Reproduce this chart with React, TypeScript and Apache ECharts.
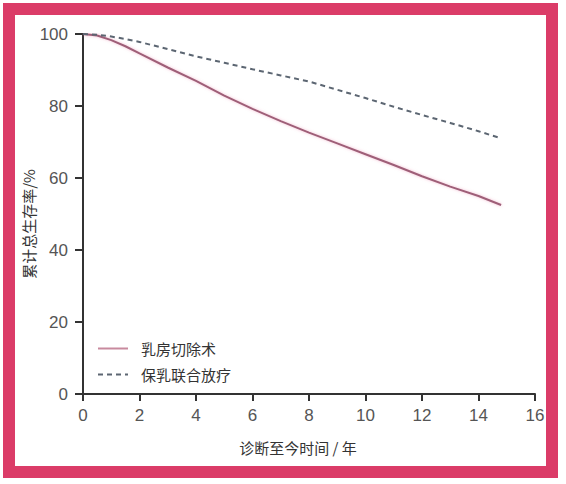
import React, { useEffect, useRef } from "react";
import * as echarts from "echarts";

// years since diagnosis (shared x values)
const years = [0, 0.5, 1, 1.5, 2, 3, 4, 5, 6, 7, 8, 9, 10, 11, 12, 13, 14, 14.8];
// 乳房切除术
const mastectomy = [100, 99.6, 98.3, 96.6, 94.6, 90.7, 87, 82.9, 79.2, 75.8, 72.6, 69.6, 66.6, 63.6, 60.5, 57.6, 55, 52.5];
// 保乳联合放疗
const conserving = [100, 99.8, 99.3, 98.6, 97.8, 95.8, 93.8, 92, 90.2, 88.5, 86.8, 84.5, 82.2, 79.8, 77.5, 75.3, 73, 71];

const xTicks = [0, 2, 4, 6, 8, 10, 12, 14, 16];
const yTicks = [0, 20, 40, 60, 80, 100];

const FONT = "'Noto Sans CJK SC', 'Noto Sans', sans-serif";

const App: React.FC = () => {
  const chartRef = useRef<HTMLDivElement | null>(null);

  useEffect(() => {
    if (!chartRef.current) return;
    const chart = echarts.init(chartRef.current, null, { renderer: "svg" });

    const axisLine = { show: true, lineStyle: { color: "#333", width: 2 } };

    chart.setOption({
      animation: false,
      backgroundColor: "#fff",
      grid: { left: 83, right: 31, top: 34, bottom: 90 },
      legend: {
        orient: "vertical",
        left: 97,
        top: 341,
        padding: 0,
        itemWidth: 30,
        itemHeight: 14,
        itemGap: 11,
        itemStyle: { opacity: 0 },
        textStyle: { fontFamily: FONT, fontSize: 15, color: "#333", padding: [0, 0, 0, 8] },
        data: [
          { name: "乳房切除术", lineStyle: { color: "#C88A9E" } },
          { name: "保乳联合放疗" },
        ],
      },
      xAxis: {
        type: "value",
        min: xTicks[0],
        max: xTicks[xTicks.length - 1],
        interval: 2,
        axisLine,
        axisTick: { show: true, length: 7, lineStyle: { color: "#333", width: 2 } },
        axisLabel: { margin: 13, fontFamily: "'Liberation Sans', sans-serif", fontSize: 17, color: "#555" },
        splitLine: { show: false },
      },
      yAxis: {
        type: "value",
        min: yTicks[0],
        max: yTicks[yTicks.length - 1],
        interval: 20,
        axisLine,
        axisTick: { show: true, length: 8, lineStyle: { color: "#333", width: 2 } },
        axisLabel: { margin: 15, fontFamily: "'Liberation Sans', sans-serif", fontSize: 17, color: "#555" },
        splitLine: { show: false },
      },
      series: [
        {
          name: "乳房切除术",
          type: "line",
          symbol: "none",
          data: years.map((x, i) => [x, mastectomy[i]]),
          lineStyle: {
            color: "#9E5F78",
            width: 2,
            shadowColor: "rgba(230,120,160,0.5)",
            shadowBlur: 3,
          },
          itemStyle: { color: "#C98A9F" },
        },
        {
          name: "保乳联合放疗",
          type: "line",
          symbol: "none",
          data: years.map((x, i) => [x, conserving[i]]),
          lineStyle: { color: "#5C6672", width: 2, type: [5, 4] },
          itemStyle: { color: "#5C6672" },
        },
      ],
      graphic: [
        {
          type: "rect",
          shape: { x: 9, y: 9, width: 543, height: 463 },
          style: { fill: "none", stroke: "#DB3C68", lineWidth: 12 },
          silent: true,
        },
        {
          type: "text",
          x: 298,
          y: 447,
          style: {
            text: "诊断至今时间 / 年",
            fontFamily: FONT,
            fontSize: 15,
            fill: "#333",
            align: "center",
            verticalAlign: "middle",
          },
        },
        {
          type: "text",
          x: 28,
          y: 224,
          rotation: Math.PI / 2,
          style: {
            text: "累计总生存率/%",
            fontFamily: FONT,
            fontSize: 15,
            fill: "#333",
            align: "center",
            verticalAlign: "middle",
          },
        },
      ],
    });

    return () => {
      chart.dispose();
    };
  }, []);

  return (
    <div
      ref={chartRef}
      style={{ position: "fixed", left: 0, top: 0, width: "566px", height: "484px" }}
    />
  );
};

export default App;
